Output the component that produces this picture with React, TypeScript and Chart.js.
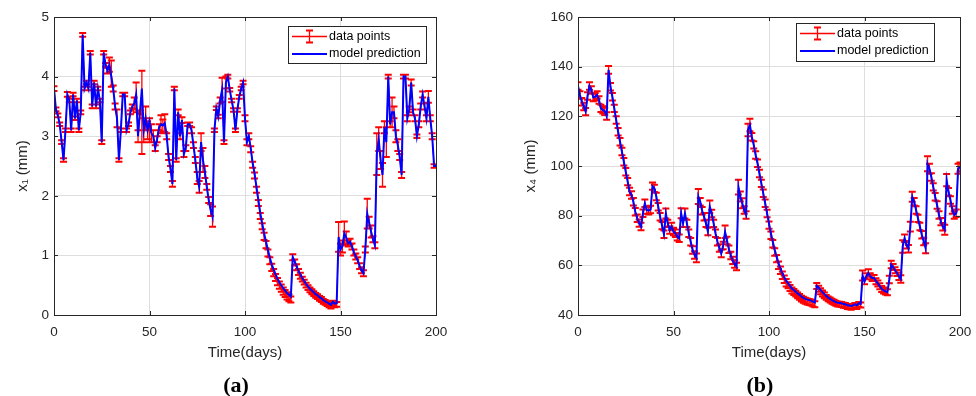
import React, { useEffect, useRef } from "react";
import { Chart, registerables } from "chart.js";
Chart.register(...registerables);

// ---------- data ----------
const days = Array.from({ length: 201 }, (_, i) => i);
const xTicks = [0, 50, 100, 150, 200];
const x1Ticks = [0, 1, 2, 3, 4, 5];
const x4Ticks = [40, 60, 80, 100, 120, 140, 160];
const seriesLabels = ["data points", "model prediction"];
const xTitle = "Time(days)";
const x1Title = "x\u2081 (mm)";
const x4Title = "x\u2084 (mm)";

const x1Model = [
  3.8, 3.45, 3.35, 3.2, 2.9, 2.6, 3.1, 3.7, 3.6, 3.1,
  3.7, 3.3, 3.6, 3.1, 3.4, 4.7, 3.8, 3.9, 3.8, 4.4,
  3.5, 3.9, 3.5, 3.8, 3.6, 2.9, 4.4, 4.2, 4.1, 4.2,
  4.0, 3.8, 3.5, 3.3, 2.6, 3.1, 3.7, 3.7, 3.1, 3.2,
  3.4, 3.5, 3.55, 3.7, 3.0, 3.4, 3.8, 3.1, 3.3, 3.1,
  3.25, 3.05, 3.0, 2.8, 2.95, 3.15, 3.2, 3.18, 3.22, 3.0,
  2.65, 2.45, 2.2, 3.8, 2.6, 3.4, 3.0, 3.27, 2.7, 2.8,
  3.2, 3.2, 3.1, 2.85, 2.6, 2.3, 2.15, 2.9, 2.6, 2.4,
  2.15, 1.93, 1.76, 1.65, 3.1, 3.47, 3.33, 3.6, 3.78, 2.9,
  3.9, 4.0, 3.78, 3.6, 3.44, 3.1, 3.44, 3.66, 3.8, 3.9,
  3.3, 2.9, 3.0, 2.8, 2.55, 2.38, 2.15, 1.93, 1.71, 1.54,
  1.37, 1.23, 1.09, 0.96, 0.85, 0.76, 0.68, 0.61, 0.55, 0.5,
  0.45, 0.41, 0.37, 0.34, 0.31, 0.97, 0.9, 0.82, 0.74, 0.68,
  0.62, 0.57, 0.52, 0.48, 0.44, 0.41, 0.38, 0.35, 0.33, 0.3,
  0.28, 0.25, 0.23, 0.21, 0.19, 0.17, 0.22, 0.19, 0.2, 1.31,
  1.1, 1.15, 1.37, 1.3, 1.2, 1.23, 1.15, 1.05, 0.98, 0.92,
  0.82, 0.75, 0.7, 1.1, 1.7, 1.55, 1.4, 1.27, 1.17, 2.7,
  2.95, 2.6, 2.35, 3.15, 2.9, 4.0, 3.2, 3.4, 3.4, 3.0,
  2.85, 2.65, 2.35, 4.0, 4.0, 3.3, 3.45, 3.9, 3.4, 3.3,
  3.0, 3.2, 3.5, 3.7, 3.5, 3.3, 3.66, 3.3, 3.0, 2.5,
  2.5,
];

const x1Data = [
  3.8, 3.45, 3.35, 3.2, 2.9, 2.6, 3.1, 3.7, 3.6, 3.1,
  3.7, 3.3, 3.6, 3.1, 3.4, 4.7, 3.8, 3.9, 3.8, 4.4,
  3.5, 3.9, 3.5, 3.8, 3.6, 2.9, 4.4, 4.2, 4.1, 4.2,
  4.05, 3.8, 3.5, 3.3, 2.6, 3.1, 3.7, 3.7, 3.1, 3.2,
  3.4, 3.5, 3.55, 3.65, 3.0, 3.4, 3.4, 3.1, 3.3, 3.1,
  3.1, 3.05, 3.0, 2.8, 2.95, 3.15, 3.2, 3.18, 3.22, 3.0,
  2.65, 2.45, 2.2, 3.8, 2.6, 3.4, 3.0, 3.27, 2.7, 2.8,
  3.2, 3.2, 3.1, 2.85, 2.6, 2.3, 2.15, 2.9, 2.6, 2.4,
  2.15, 1.93, 1.76, 1.65, 3.1, 3.47, 3.33, 3.6, 3.78, 2.9,
  3.9, 4.0, 3.78, 3.6, 3.44, 3.1, 3.44, 3.66, 3.8, 3.9,
  3.3, 2.9, 3.0, 2.78, 2.52, 2.34, 2.1, 1.88, 1.66, 1.49,
  1.32, 1.18, 1.04, 0.91, 0.8, 0.71, 0.63, 0.56, 0.5, 0.45,
  0.4, 0.36, 0.32, 0.29, 0.26, 0.97, 0.88, 0.8, 0.72, 0.66,
  0.6, 0.55, 0.5, 0.46, 0.42, 0.39, 0.36, 0.33, 0.31, 0.28,
  0.26, 0.23, 0.21, 0.19, 0.17, 0.15, 0.2, 0.17, 0.18, 1.31,
  1.1, 1.15, 1.37, 1.3, 1.2, 1.23, 1.15, 1.05, 0.98, 0.92,
  0.82, 0.75, 0.7, 1.1, 1.7, 1.55, 1.4, 1.27, 1.17, 2.7,
  2.95, 2.6, 2.35, 3.15, 2.9, 4.0, 3.2, 3.4, 3.4, 3.0,
  2.85, 2.65, 2.35, 4.0, 4.0, 3.3, 3.45, 3.9, 3.4, 3.3,
  3.0, 3.2, 3.5, 3.7, 3.5, 3.3, 3.66, 3.3, 3.0, 2.5,
  2.5,
];

const x1Err = [
  0.04, 0.03, 0.03, 0.03, 0.03, 0.03, 0.03, 0.04, 0.03, 0.03,
  0.03, 0.03, 0.03, 0.03, 0.03, 0.03, 0.03, 0.03, 0.03, 0.03,
  0.03, 0.03, 0.03, 0.03, 0.03, 0.03, 0.03, 0.03, 0.05, 0.12,
  0.22, 0.05, 0.05, 0.15, 0.03, 0.03, 0.03, 0.03, 0.03, 0.03,
  0.03, 0.03, 0.1, 0.25, 0.1, 0.03, 0.7, 0.2, 0.2, 0.15,
  0.2, 0.15, 0.1, 0.05, 0.05, 0.05, 0.15, 0.1, 0.15, 0.05,
  0.05, 0.05, 0.05, 0.03, 0.03, 0.05, 0.05, 0.05, 0.05, 0.05,
  0.03, 0.03, 0.05, 0.05, 0.05, 0.1, 0.1, 0.15, 0.2, 0.1,
  0.05, 0.05, 0.1, 0.17, 0.03, 0.03, 0.03, 0.05, 0.2, 0.03,
  0.1, 0.03, 0.03, 0.03, 0.03, 0.03, 0.03, 0.03, 0.03, 0.03,
  0.05, 0.05, 0.05, 0.05, 0.05, 0.05, 0.05, 0.05, 0.05, 0.05,
  0.06, 0.06, 0.06, 0.06, 0.06, 0.06, 0.06, 0.06, 0.06, 0.06,
  0.06, 0.06, 0.06, 0.06, 0.05, 0.05, 0.05, 0.05, 0.05, 0.05,
  0.04, 0.04, 0.04, 0.04, 0.04, 0.04, 0.04, 0.04, 0.04, 0.04,
  0.04, 0.04, 0.04, 0.04, 0.04, 0.04, 0.04, 0.04, 0.04, 0.25,
  0.1, 0.1, 0.2, 0.1, 0.05, 0.05, 0.05, 0.05, 0.05, 0.05,
  0.05, 0.05, 0.05, 0.05, 0.25, 0.1, 0.1, 0.05, 0.05, 0.35,
  0.2, 0.15, 0.2, 0.1, 0.25, 0.03, 0.05, 0.25, 0.1, 0.1,
  0.1, 0.05, 0.05, 0.03, 0.03, 0.05, 0.05, 0.05, 0.05, 0.05,
  0.03, 0.05, 0.05, 0.05, 0.05, 0.05, 0.1, 0.05, 0.05, 0.03,
  0.03,
];

const x4Model = [
  132.2, 128.6, 125.9, 124, 121.9, 128.2, 132.2, 130.6, 127.6, 127.9,
  128.6, 126.6, 123.2, 122.6, 122, 120.1, 138.7, 131.9, 127.9, 123.2,
  118.5, 113.8, 109.8, 105.8, 101.7, 97.7, 93.7, 89.7, 88.3, 85.6,
  81.6, 79, 77, 75.6, 81, 85, 82.3, 82, 82.5, 91.9,
  91, 87.7, 83.6, 79.6, 76, 72.5, 80.9, 76.9, 74.2, 75.6,
  73.6, 72.9, 71.5, 70.9, 81, 76.9, 80.9, 76.9, 72.9, 69.5,
  66.2, 64.2, 63, 87.7, 85.6, 82, 79.6, 76.9, 73.6, 83.6,
  80.9, 76.9, 72.9, 69.5, 67, 64.8, 68, 73.5, 70, 66.5,
  64, 62, 60.5, 59.5, 91.5, 87.7, 85, 82.3, 80.3, 114.5,
  116.5, 111.8, 108.5, 104.4, 101.1, 97, 93, 89, 85, 80.9,
  76.9, 72.9, 69.5, 66.2, 63.5, 60.8, 58.8, 56.8, 55.2, 53.8,
  52.8, 51.7, 50.7, 50.1, 49.4, 48.7, 48.1, 47.4, 46.9, 46.5,
  46.2, 46, 45.8, 45.4, 45.1, 51.7, 51.1, 50.1, 49.2, 48.4,
  47.6, 47, 46.5, 46, 45.6, 45.2, 44.9, 44.8, 44.7, 44.4,
  44.3, 43.9, 43.8, 43.6, 43.9, 44.3, 43.9, 44.7, 44.5, 55.9,
  53.6, 55.6, 56.9, 55.6, 54.9, 54.9, 53.6, 52.7, 51.6, 50.5,
  49.9, 49.5, 49.2, 54.3, 60.3, 59.3, 58, 56.9, 55.6, 54.5,
  67.6, 70.9, 68.3, 66.7, 75.6, 87.6, 85.6, 82.3, 78.9, 75.6,
  72.3, 69.6, 66.9, 100.9, 98.9, 95.6, 91.6, 87.6, 84.3, 80.3,
  77.6, 75.5, 74.3, 94.3, 89.6, 86.3, 82.3, 80.3, 81, 98.9,
  99.6,
];

const x4Data = [
  132.2, 128.6, 125.9, 124, 121.9, 128.2, 132.2, 130.6, 127.6, 127.9,
  128.6, 126.6, 123.2, 122.6, 122, 120.1, 138.7, 131.9, 127.9, 123.2,
  118.5, 113.8, 109.8, 105.8, 101.7, 97.7, 93.7, 89.7, 88.3, 85.6,
  81.6, 79, 77, 75.6, 81, 85, 82.3, 82, 82.5, 91.9,
  91, 87.7, 83.6, 79.6, 76, 72.5, 80.9, 76.9, 74.2, 75.6,
  73.6, 72.9, 71.5, 70.9, 81, 76.9, 80.9, 76.9, 72.9, 69.5,
  66.2, 64.2, 63, 87.7, 85.6, 82, 79.6, 76.9, 73.6, 83.6,
  80.9, 76.9, 72.9, 69.5, 67, 64.8, 68, 73.5, 70, 66.5,
  64, 62, 60.5, 59.5, 91.5, 87.7, 85, 82.3, 80.3, 114.5,
  116.5, 111.8, 108.5, 104.4, 101.1, 97, 93, 89, 85, 80.9,
  76.2, 72.1, 68.7, 65.4, 62.7, 60, 58, 56, 54.4, 53,
  52, 50.9, 49.9, 49.3, 48.6, 47.9, 47.3, 46.6, 46.1, 45.7,
  45.4, 45.2, 45, 44.6, 44.3, 51.7, 50.6, 49.6, 48.7, 47.9,
  47.1, 46.5, 46, 45.5, 45.1, 44.7, 44.4, 44.3, 44.2, 43.9,
  43.8, 43.4, 43.3, 43.1, 43.4, 43.8, 43.4, 44.2, 44, 55.9,
  53.6, 55.6, 56.9, 55.6, 54.9, 54.9, 53.6, 52.7, 51.6, 50.5,
  49.9, 49.5, 49.2, 54.3, 60.3, 59.3, 58, 56.9, 55.6, 54.5,
  67.6, 70.9, 68.3, 66.7, 75.6, 87.6, 85.6, 82.3, 78.9, 75.6,
  72.3, 69.6, 66.9, 100.9, 98.9, 95.6, 91.6, 87.6, 84.3, 80.3,
  77.6, 75.5, 74.3, 94.3, 89.6, 86.3, 82.3, 80.3, 81, 98.9,
  99.6,
];

const x4Err = [
  1.5, 1.5, 1.5, 1.5, 1.5, 1.5, 1.5, 1.5, 1.5, 1.5,
  1.5, 1.5, 1.5, 1.5, 1.5, 1.5, 1.6, 1.5, 1.5, 1.5,
  1.5, 1.5, 1.5, 1.5, 1.5, 1.5, 1.5, 1.5, 1.5, 1.5,
  1.5, 1.5, 1.5, 1.5, 1.5, 1.5, 1.5, 1.5, 1.5, 1.5,
  1.5, 1.5, 1.5, 1.5, 1.5, 1.5, 2, 1.5, 1.5, 1.5,
  1.5, 1.5, 1.5, 1.5, 2, 1.5, 2, 1.5, 1.5, 1.5,
  1.5, 1.5, 1.8, 3, 1.5, 1.5, 1.5, 1.5, 1.5, 2.5,
  1.5, 1.5, 1.5, 1.5, 1.5, 1.5, 1.5, 2.5, 1.5, 1.5,
  1.5, 1.5, 1.5, 1.5, 3, 2, 2, 1.5, 1.5, 2.5,
  2.5, 1.5, 1.5, 1.5, 1.5, 1.5, 1.5, 1.5, 1.5, 1.5,
  1.5, 1.5, 1.5, 1.5, 1.5, 1.5, 1.5, 1.5, 1.5, 1.5,
  1.2, 1.2, 1.2, 1.2, 1.2, 1.2, 1.2, 1.2, 1.2, 1.2,
  1.2, 1.2, 1.2, 1.2, 1.2, 1.2, 1.2, 1.2, 1.2, 1.2,
  1, 1, 1, 1, 1, 1, 1, 1, 1, 1,
  1, 1, 1, 1, 1, 1, 1, 1, 1, 2,
  1.2, 1.2, 1.5, 1.2, 1.2, 1.2, 1.2, 1.2, 1.2, 1.2,
  1.2, 1.2, 1.2, 1.5, 1.5, 1.2, 1.2, 1.2, 1.5, 1.5,
  2.5, 1.5, 1.5, 1.5, 2, 2, 1.5, 1.5, 1.5, 1.5,
  1.5, 1.5, 2, 3, 2, 1.5, 1.5, 1.5, 1.5, 1.5,
  1.5, 1.5, 2, 2.5, 1.5, 1.5, 1.5, 1.5, 1.5, 2,
  1.8,
];

// ---------- drawing helpers ----------
const AXIS_COLOR = "#262626";
const GRID_COLOR = "#dedede";
const FONT = '"Liberation Sans", Arial, Helvetica, sans-serif';

const decoPlugin = {
  id: "deco",
  beforeDatasetsDraw(chart: any) {
    const { ctx, chartArea: ca, scales } = chart;
    const ds = chart.data.datasets[0];
    const errs: number[] = ds.errors;
    ctx.save();
    ctx.beginPath();
    ctx.rect(ca.left, ca.top, ca.right - ca.left, ca.bottom - ca.top);
    ctx.clip();
    ctx.strokeStyle = "#ff0000";
    // vertical stems
    ctx.lineWidth = 1.3;
    ctx.beginPath();
    ds.data.forEach((p: any, i: number) => {
      const px = scales.x.getPixelForValue(p.x);
      const t = scales.y.getPixelForValue(p.y + errs[i]);
      const b = scales.y.getPixelForValue(p.y - errs[i]);
      ctx.moveTo(px, t);
      ctx.lineTo(px, b);
    });
    ctx.stroke();
    // caps
    ctx.lineWidth = 2;
    ctx.beginPath();
    ds.data.forEach((p: any, i: number) => {
      const px = scales.x.getPixelForValue(p.x);
      const t = scales.y.getPixelForValue(p.y + errs[i]);
      const b = scales.y.getPixelForValue(p.y - errs[i]);
      ctx.moveTo(px - 3.5, t);
      ctx.lineTo(px + 3.5, t);
      ctx.moveTo(px - 3.5, b);
      ctx.lineTo(px + 3.5, b);
    });
    ctx.stroke();
    ctx.restore();
  },
  afterDraw(chart: any, _args: any, opts: any) {
    const { ctx, chartArea: ca, scales } = chart;
    ctx.save();
    ctx.strokeStyle = AXIS_COLOR;
    ctx.lineWidth = 1;
    ctx.beginPath();
    scales.x.ticks.forEach((t: any) => {
      const px = Math.round(scales.x.getPixelForValue(t.value)) + 0.5;
      ctx.moveTo(px, ca.bottom);
      ctx.lineTo(px, ca.bottom - 4);
      ctx.moveTo(px, ca.top);
      ctx.lineTo(px, ca.top + 4);
    });
    scales.y.ticks.forEach((t: any) => {
      const py = Math.round(scales.y.getPixelForValue(t.value)) + 0.5;
      ctx.moveTo(ca.left, py);
      ctx.lineTo(ca.left + 4, py);
      ctx.moveTo(ca.right, py);
      ctx.lineTo(ca.right - 4, py);
    });
    ctx.stroke();
    ctx.strokeRect(
      Math.round(ca.left) + 0.5,
      Math.round(ca.top) + 0.5,
      Math.round(ca.right - ca.left),
      Math.round(ca.bottom - ca.top)
    );

    // legend box
    const b = opts.box;
    const ds = chart.data.datasets;
    ctx.fillStyle = "#ffffff";
    ctx.fillRect(b.x, b.y, b.w, b.h);
    ctx.strokeStyle = AXIS_COLOR;
    ctx.strokeRect(b.x + 0.5, b.y + 0.5, b.w, b.h);
    const y1 = b.y + 10.5;
    const y2 = b.y + 28;
    const sx0 = b.x + 4;
    const sx1 = b.x + 39;
    const cx = (sx0 + sx1) / 2;
    ctx.strokeStyle = "#ff0000";
    ctx.lineWidth = 1.3;
    ctx.beginPath();
    ctx.moveTo(sx0, y1);
    ctx.lineTo(sx1, y1);
    ctx.moveTo(cx, y1 - 6);
    ctx.lineTo(cx, y1 + 6);
    ctx.stroke();
    ctx.lineWidth = 2;
    ctx.beginPath();
    ctx.moveTo(cx - 3.5, y1 - 6);
    ctx.lineTo(cx + 3.5, y1 - 6);
    ctx.moveTo(cx - 3.5, y1 + 6);
    ctx.lineTo(cx + 3.5, y1 + 6);
    ctx.stroke();
    ctx.strokeStyle = "#0000ff";
    ctx.lineWidth = 2;
    ctx.beginPath();
    ctx.moveTo(sx0, y2);
    ctx.lineTo(sx1, y2);
    ctx.stroke();
    ctx.fillStyle = "#000000";
    ctx.font = `12.5px ${FONT}`;
    ctx.textBaseline = "middle";
    ctx.textAlign = "left";
    ctx.fillText(ds[0].label, b.x + 41, y1);
    ctx.fillText(ds[1].label, b.x + 41, y2);
    ctx.restore();
  },
};

function makeConfig(p: {
  model: number[];
  data: number[];
  err: number[];
  yTicks: number[];
  yTitle: string;
  padLeft: number;
  padRight: number;
  yWidth: number;
  yTitlePad: number;
  box: { x: number; y: number; w: number; h: number };
}): any {
  return {
    type: "line",
    data: {
      datasets: [
        {
          label: seriesLabels[0],
          data: p.data.map((v, i) => ({ x: days[i], y: v })),
          errors: p.err,
          borderColor: "#ff0000",
          borderWidth: 1,
          pointRadius: 0,
          fill: false,
          tension: 0,
          order: 2,
        },
        {
          label: seriesLabels[1],
          data: p.model.map((v, i) => ({ x: days[i], y: v })),
          borderColor: "#0000ff",
          borderWidth: 2,
          pointRadius: 0,
          fill: false,
          tension: 0,
          order: 1,
        },
      ],
    },
    options: {
      animation: false,
      responsive: false,
      events: [],
      layout: { padding: { left: p.padLeft, right: p.padRight, top: 17, bottom: 31 } },
      plugins: {
        legend: { display: false },
        tooltip: { enabled: false },
        deco: { box: p.box },
      },
      scales: {
        x: {
          type: "linear",
          min: xTicks[0],
          max: xTicks[xTicks.length - 1],
          ticks: {
            stepSize: xTicks[1] - xTicks[0],
            color: AXIS_COLOR,
            font: { family: FONT, size: 13.5 },
            padding: 9,
            maxRotation: 0,
          },
          grid: { color: GRID_COLOR, drawTicks: false },
          border: { display: false },
          title: {
            display: true,
            text: xTitle,
            color: AXIS_COLOR,
            font: { family: FONT, size: 15 },
            padding: { top: 0, bottom: 3 },
          },
          afterFit: (s: any) => {
            s.height = 50;
            s.paddingLeft = 0;
            s.paddingRight = 0;
          },
        },
        y: {
          type: "linear",
          min: p.yTicks[0],
          max: p.yTicks[p.yTicks.length - 1],
          ticks: {
            stepSize: p.yTicks[1] - p.yTicks[0],
            color: AXIS_COLOR,
            font: { family: FONT, size: 13.5 },
            padding: 5,
          },
          grid: { color: GRID_COLOR, drawTicks: false },
          border: { display: false },
          title: {
            display: true,
            text: p.yTitle,
            color: AXIS_COLOR,
            font: { family: FONT, size: 15 },
            padding: { top: p.yTitlePad, bottom: 0 },
          },
          afterFit: (s: any) => {
            s.width = p.yWidth;
            s.paddingTop = 0;
            s.paddingBottom = 0;
          },
        },
      },
    },
    plugins: [decoPlugin],
  };
}

const panelLabelStyle = (cx: number): React.CSSProperties => ({
  position: "absolute",
  left: cx - 40,
  top: 372,
  width: 80,
  textAlign: "center",
  font: 'bold 22px "Liberation Serif", "Times New Roman", serif',
  lineHeight: "26px",
  color: "#000",
});

export default function App() {
  const leftRef = useRef<HTMLCanvasElement>(null);
  const rightRef = useRef<HTMLCanvasElement>(null);

  useEffect(() => {
    const c1 = new Chart(
      leftRef.current as HTMLCanvasElement,
      makeConfig({
        model: x1Model,
        data: x1Data,
        err: x1Err,
        yTicks: x1Ticks,
        yTitle: x1Title,
        padLeft: 0,
        padRight: 52,
        yWidth: 54,
        yTitlePad: 14,
        box: { x: 288, y: 26, w: 138, h: 37 },
      })
    );
    const c2 = new Chart(
      rightRef.current as HTMLCanvasElement,
      makeConfig({
        model: x4Model,
        data: x4Data,
        err: x4Err,
        yTicks: x4Ticks,
        yTitle: x4Title,
        padLeft: 26,
        padRight: 16,
        yWidth: 64,
        yTitlePad: 8,
        box: { x: 308, y: 23, w: 138, h: 38 },
      })
    );
    return () => {
      c1.destroy();
      c2.destroy();
    };
  }, []);

  return (
    <div style={{ position: "absolute", left: 0, top: 0, width: 976, height: 396, background: "#fff" }}>
      <canvas ref={leftRef} width={488} height={396} style={{ position: "absolute", left: 0, top: 0 }} />
      <canvas ref={rightRef} width={488} height={396} style={{ position: "absolute", left: 488, top: 0 }} />
      <div style={panelLabelStyle(236)}>(a)</div>
      <div style={panelLabelStyle(760)}>(b)</div>
    </div>
  );
}
